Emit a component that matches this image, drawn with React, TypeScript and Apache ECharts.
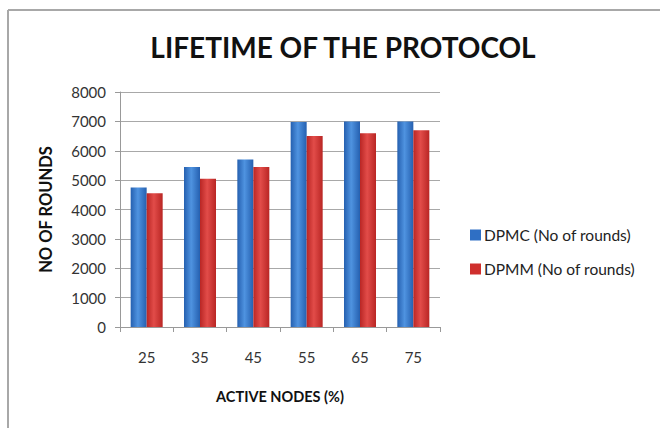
import React, { useEffect, useRef } from "react";
import * as echarts from "echarts";

const categories = ["25", "35", "45", "55", "65", "75"];
const dpmc = [4750, 5450, 5700, 6980, 7000, 7000];
const dpmm = [4550, 5050, 5450, 6500, 6600, 6700];
const yTicks = { min: 0, max: 8000, interval: 1000 };

const FONT = "Lato, 'Open Sans', sans-serif";

function grad(dark: string, light: string) {
  return new echarts.graphic.LinearGradient(0, 0, 1, 0, [
    { offset: 0, color: dark },
    { offset: 0.45, color: light },
    { offset: 1, color: dark },
  ]);
}

export default function App() {
  const ref = useRef<HTMLDivElement>(null);
  useEffect(() => {
    const chart = echarts.init(ref.current!, null, { renderer: "svg" });
    chart.setOption({
      animation: false,
      backgroundColor: "#ffffff",
      title: {
        text: "LIFETIME OF THE PROTOCOL",
        left: 338,
        top: 28,
        textAlign: "center",
        textStyle: { fontFamily: FONT, fontSize: 28, fontWeight: "bold", color: "#111" },
      },
      graphic: [
        {
          type: "line",
          shape: { x1: 8, y1: 10, x2: 660, y2: 10 },
          style: { stroke: "#a8a8a8", lineWidth: 2 },
          silent: true,
          z: 100,
        },
        {
          type: "line",
          shape: { x1: 8, y1: 10, x2: 8, y2: 428 },
          style: { stroke: "#a8a8a8", lineWidth: 2 },
          silent: true,
          z: 100,
        },
      ],
      legend: {
        orient: "vertical",
        left: 465,
        top: 222,
        itemGap: 18,
        itemWidth: 11,
        itemHeight: 11,
        icon: "rect",
        textStyle: { fontFamily: FONT, fontSize: 15.5, color: "#222", padding: [0, 0, 0, -2] },
        data: [
          { name: "DPMC (No of rounds)", itemStyle: { color: "#2f6fc4" } },
          { name: "DPMM (No of rounds)", itemStyle: { color: "#cf2f2d" } },
        ],
      },
      grid: { left: 120, right: 220, top: 92, bottom: 101 },
      xAxis: {
        type: "category",
        data: categories,
        name: "ACTIVE NODES (%)",
        nameLocation: "middle",
        nameGap: 62,
        nameTextStyle: { fontFamily: FONT, fontSize: 14.5, fontWeight: "bold", color: "#111" },
        axisLine: { lineStyle: { color: "#999", width: 1 } },
        axisTick: { show: true, length: 5, lineStyle: { color: "#999" } },
        axisLabel: { fontFamily: FONT, fontSize: 15, color: "#333", margin: 22 },
      },
      yAxis: {
        type: "value",
        min: yTicks.min,
        max: yTicks.max,
        interval: yTicks.interval,
        name: "NO OF ROUNDS",
        nameLocation: "middle",
        nameGap: 66,
        nameTextStyle: { fontFamily: FONT, fontSize: 16.5, fontWeight: "bold", color: "#111" },
        axisLine: { show: true, lineStyle: { color: "#999", width: 1 } },
        axisTick: { show: true, length: 5, lineStyle: { color: "#999" } },
        axisLabel: {
          fontFamily: FONT,
          fontSize: 15,
          color: "#333",
          margin: 14,
          formatter: (v: number) => String(v),
        },
        splitLine: { lineStyle: { color: "#a8a8a8", width: 1 } },
      },
      series: [
        {
          name: "DPMC (No of rounds)",
          type: "bar",
          data: dpmc,
          barGap: "0%",
          barCategoryGap: "40%",
          itemStyle: { color: grad("#2560b0", "#4f93e0") },
        },
        {
          name: "DPMM (No of rounds)",
          type: "bar",
          data: dpmm,
          itemStyle: { color: grad("#b92624", "#e24c49") },
        },
      ],
    });
    return () => chart.dispose();
  }, []);
  return (
    <div
      ref={ref}
      style={{ position: "absolute", left: 0, top: 0, width: 660, height: 428 }}
    />
  );
}
